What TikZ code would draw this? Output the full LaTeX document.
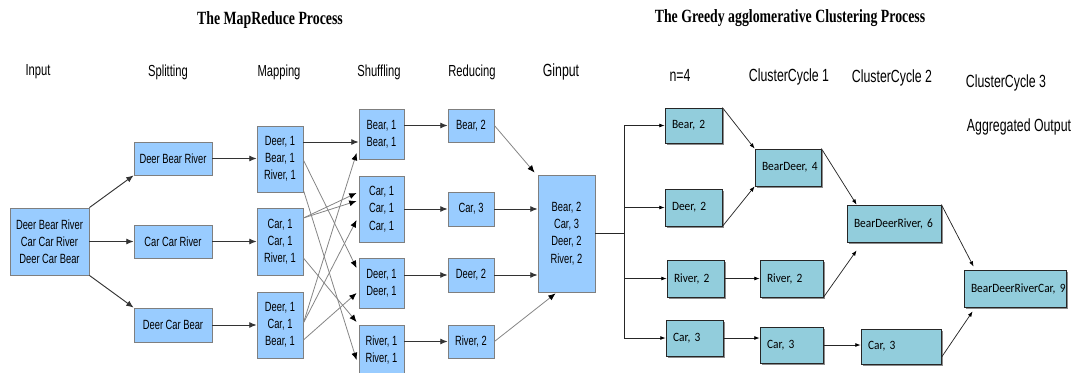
\documentclass[tikz,border=0pt]{standalone}
\usepackage{fontspec}
\usetikzlibrary{arrows.meta,calc,shadows}
\newfontfamily\mrfont{Liberation Sans}[FakeStretch=0.7]
\newfontfamily\clfont{Carlito}[FakeStretch=0.9]
\newfontfamily\ttlfont{Liberation Serif}[FakeStretch=0.74]
\definecolor{mrfill}{HTML}{99CCFF}
\definecolor{mrdraw}{HTML}{7F7F7F}
\definecolor{clfill}{HTML}{92CDDC}
\definecolor{cldraw}{HTML}{262626}
\definecolor{mrline}{HTML}{333333}
\definecolor{shline}{HTML}{858585}
\begin{document}
\begin{tikzpicture}[x=0.75pt,y=-0.75pt,
  ttl/.style={font=\ttlfont\bfseries\fontsize{14}{16}\selectfont},
  hdr/.style={font=\mrfont\fontsize{12}{14}\selectfont, inner sep=0pt},
  hdrb/.style={font=\mrfont\fontsize{13.2}{15}\selectfont, inner sep=0pt},
  mrbox/.style 2 args={draw=mrdraw, fill=mrfill, line width=0.6pt, minimum width=#1*0.75pt, minimum height=#2*0.75pt, inner sep=0pt, align=center, font=\mrfont\fontsize{10}{12.9}\selectfont},
  clbox/.style 2 args={draw=cldraw, fill=clfill, line width=0.6pt, text width=#1pt, inner xsep=5.25pt, inner ysep=0pt, minimum height=#2*0.75pt, align=left, font=\clfont\fontsize{9.5}{11}\selectfont, drop shadow={shadow xshift=1.3pt, shadow yshift=-1.3pt, fill=black!45, opacity=1}},
  mrarr/.style={draw=mrline, line width=0.7pt, -{Latex[length=5.5pt,width=4.5pt]}},
  shuf/.style={draw=shline, line width=0.6pt, -{Latex[length=5.5pt,width=4.5pt,color=black]}},
  clarr/.style={draw=black!85, line width=0.55pt, -{Latex[length=4pt,width=3pt,color=black]}},
  plain/.style={draw=black!85, line width=0.6pt}
]
\useasboundingbox (0,0) rectangle (1076,372);
\clip (0,0) rectangle (1076,372);

% titles
\node[ttl] (t1) at (270,20) {The MapReduce Process};
\node[ttl] (t2) at (790,18) {The Greedy agglomerative Clustering Process};

% headers
\node[hdr] (h1) at (38,72) {Input};
\node[hdr] (h2) at (168,72) {Splitting};
\node[hdr] (h3) at (279,72) {Mapping};
\node[hdr] (h4) at (379,72) {Shuffling};
\node[hdr] (h5) at (472,72) {Reducing};
\node[hdrb] (h6) at (561,72) {Ginput};
\node[hdrb] (h7) at (680,75) {n=4};
\node[hdrb] (h8) at (789,77) {ClusterCycle 1};
\node[hdrb] (h9) at (892,78) {ClusterCycle 2};
\node[hdrb] (h10) at (1006,83) {ClusterCycle 3};
\node[hdrb] (h11) at (1019,127) {Aggregated Output};

% MapReduce boxes
\node[mrbox={79}{67}] (in) at (49.5,241.5) {Deer Bear River\\Car Car River\\Deer Car Bear};
\node[mrbox={78}{33}] (s1) at (173,158.5) {Deer Bear River};
\node[mrbox={78}{33}] (s2) at (173,241.5) {Car Car River};
\node[mrbox={78}{34}] (s3) at (173,325) {Deer Car Bear};
\node[mrbox={46}{66}] (m1) at (280,159) {Deer, 1\\Bear, 1\\River, 1};
\node[mrbox={46}{67}] (m2) at (280,241.5) {Car, 1\\Car, 1\\River, 1};
\node[mrbox={46}{66}] (m3) at (280,325) {Deer, 1\\Car, 1\\Bear, 1};
\node[mrbox={45}{50}] (sh1) at (381.5,134) {Bear, 1\\Bear, 1};
\node[mrbox={45}{66}] (sh2) at (381.5,209) {Car, 1\\Car, 1\\Car, 1};
\node[mrbox={45}{50}] (sh3) at (381.5,283) {Deer, 1\\Deer, 1};
\node[mrbox={45}{50}] (sh4) at (381.5,350) {River, 1\\River, 1};
\node[mrbox={46}{33}] (r1) at (471,125.5) {Bear, 2};
\node[mrbox={46}{34}] (r2) at (471,209) {Car, 3};
\node[mrbox={46}{34}] (r3) at (471,275) {Deer, 2};
\node[mrbox={46}{33}] (r4) at (471,341.5) {River, 2};
\node[mrbox={57}{117}] (g) at (566.5,233.5) {Bear, 2\\Car, 3\\Deer, 2\\River, 2};

% MapReduce connectors
\draw[mrarr] (in.north east) -- (s1.south west);
\draw[mrarr] (in.east) -- (s2.west);
\draw[mrarr] (in.south east) -- (s3.north west);
\draw[mrarr] (s1.east) -- (s1.east -| m1.west);
\draw[mrarr] (s2.east) -- (m2.west);
\draw[mrarr] (s3.east) -- (m3.west);

\draw[mrarr] ($(m1.east)+(0,-17)$) -- ($(sh1.west)+(0,8)$);
\draw[shuf] ($(m1.east)+(0,1)$) -- ($(sh3.west)+(-2,-15)$);
\draw[shuf] ($(m1.east)+(0,31)$) -- ($(sh4.west)+(-2,10)$);
\draw[shuf] ($(m2.east)+(0,-23.5)$) -- ($(sh2.west)+(-2,-16)$);
\draw[shuf] ($(m2.east)+(0,-23.5)$) -- ($(sh2.west)+(-2,-8)$);
\draw[shuf] ($(m2.east)+(0,16.5)$) -- ($(sh4.west)+(-2,-28)$);
\draw[shuf] ($(m3.east)+(0,-2)$) -- ($(sh1.west)+(-2,19)$);
\draw[shuf] ($(m3.east)+(0,-2)$) -- ($(sh2.west)+(-2,11)$);
\draw[shuf] ($(m3.east)+(0,15)$) -- ($(sh3.west)+(-2,10)$);

\draw[mrarr] (sh1.east |- r1.west) -- (r1.west);
\draw[mrarr] (sh2.east |- r2.west) -- (r2.west);
\draw[mrarr] (sh3.east |- r3.west) -- (r3.west);
\draw[mrarr] (sh4.east |- r4.west) -- (r4.west);

\draw[shuf] (r1.east) -- ($(g.north west)+(-3,-2)$);
\draw[mrarr] (r2.east) -- (r2.east -| g.west);
\draw[mrarr] (r3.east) -- (r3.east -| g.west);
\draw[shuf] (r4.east) -- ($(g.south west)+(18,1)$);

% Clustering boxes
\node[clbox={32.25}{35}] (c1) at (693.5,125.5) {\mbox{Bear, 2}};
\node[clbox={32.25}{37}] (c2) at (693.5,207.5) {\mbox{Deer, 2}};
\node[clbox={32.25}{37}] (c3) at (695.5,278.5) {\mbox{River, 2}};
\node[clbox={32.25}{36}] (c4) at (694.5,338) {\mbox{Car, 3}};
\node[clbox={39}{37}] (d1) at (788,167.5) {\mbox{BearDeer, 4}};
\node[clbox={36.75}{37}] (d2) at (791.5,278.5) {\mbox{River, 2}};
\node[clbox={36.75}{36}] (d3) at (791.5,345) {\mbox{Car, 3}};
\node[clbox={60}{37}] (e1) at (894,223.5) {\mbox{BearDeerRiver, 6}};
\node[clbox={49.5}{35}] (e2) at (901,346.5) {\mbox{Car, 3}};
\node[clbox={66}{37}] (f1) at (1015,288.5) {\mbox{BearDeerRiverCar, 9}};

% Ginput to clustering
\coordinate (j) at (624,233);
\draw[plain] (g.east) -- (g.east -| j);
\draw[plain] (j |- c1.west) -- (j |- c4.west);
\draw[clarr] (j |- c1.west) -- (c1.west);
\draw[clarr] (j |- c2.west) -- (c2.west);
\draw[clarr] (j |- c3.west) -- (c3.west);
\draw[clarr] (j |- c4.west) -- (c4.west);

% Clustering connectors
\draw[clarr] (c1.north east) -- (d1.north west);
\draw[clarr] (c2.south east) -- (d1.south west);
\draw[clarr] (c3.east) -- (d2.west);
\draw[clarr] (c4.east) -- (c4.east -| d3.west);
\draw[clarr] (d1.north east) -- ($(e1.north west)+(10,0)$);
\draw[clarr] (d2.south east) -- ($(e1.south west)+(10,8)$);
\draw[clarr] (d3.east) -- (d3.east -| e2.west);
\draw[clarr] (e1.north east) -- ($(f1.north west)+(10,-3)$);
\draw[clarr] ($(e2.south east)+(0,-7)$) -- ($(f1.south west)+(9,4)$);
\end{tikzpicture}
\end{document}
